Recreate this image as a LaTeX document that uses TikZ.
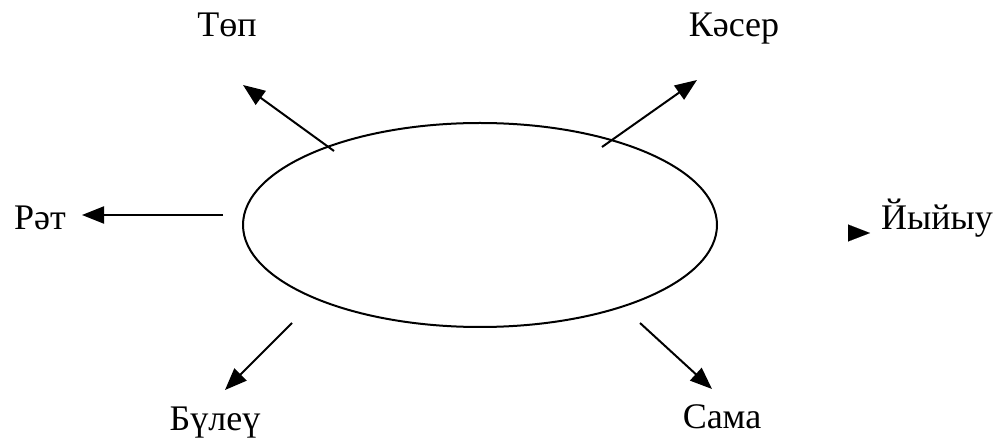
\documentclass[tikz,border=0pt]{standalone}
\usepackage{fontspec}
\setmainfont{Liberation Serif}
\usetikzlibrary{arrows.meta,shapes.geometric}
\tikzset{
  lbl/.style={anchor=base, inner sep=0pt, font=\fontsize{36}{42}\selectfont},
  arr/.style={line width=2pt, -{Triangle[length=22pt,width=17pt]}},
  oval/.style={draw, ellipse, line width=2pt, minimum width=474pt, minimum height=204pt, inner sep=0pt}
}
\begin{document}
\begin{tikzpicture}[x=1pt,y=-1pt]
\useasboundingbox (0,0) rectangle (997,438);
\node[oval] (e) at (480,225) {};
\node[lbl] (top) at (227,37) {Төп};
\node[lbl] (kas) at (734,37) {Кәсер};
\node[lbl] (rat) at (40,230) {Рәт};
\node[lbl] (yyy) at (937,230) {Йыйыу};
\node[lbl] (bul) at (215,431) {Бүлеү};
\node[lbl] (sam) at (722,429) {Сама};
\coordinate (t1) at (334,151);
\coordinate (t2) at (243,85);
\coordinate (k1) at (602,147);
\coordinate (k2) at (697,80);
\coordinate (r1) at (223,215);
\coordinate (r2) at (82,215);
\coordinate (b1) at (292,323);
\coordinate (b2) at (225,390);
\coordinate (s1) at (640,323);
\coordinate (s2) at (712,389);
\coordinate (y1) at (850,233);
\coordinate (y2) at (870,233);
\draw[arr] (t1) -- (t2);
\draw[arr] (k1) -- (k2);
\draw[arr] (r1) -- (r2);
\draw[arr] (b1) -- (b2);
\draw[arr] (s1) -- (s2);
\draw[arr, line width=0.1pt] (y1) -- (y2);
\end{tikzpicture}
\end{document}
